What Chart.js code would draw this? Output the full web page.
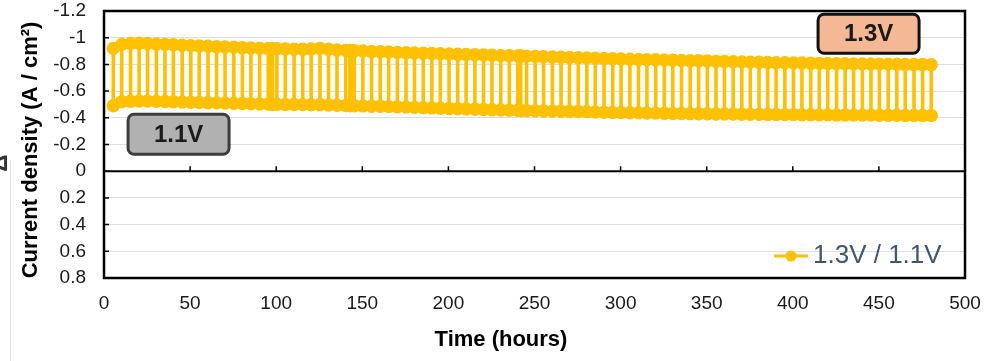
<!DOCTYPE html>
<html>
<head>
<meta charset="utf-8">
<title>Current density vs time</title>
<script src="https://cdn.jsdelivr.net/npm/chart.js@4.4.1/dist/chart.umd.min.js"></script>
<style>
  html, body { margin: 0; padding: 0; background: #fff; }
  #wrap { width: 986px; height: 361px; }
</style>
</head>
<body>
<div id="wrap"><canvas id="chart" width="986" height="361"></canvas></div>
<script>
/*
 * Chronoamperometry cycling between 1.3 V and 1.1 V.
 * Each switch time has the current density read at both potentials.
 */

// Switch times (hours)
var switchHours = [
	5.4, 10.3, 15.4, 20.4, 25.3, 30.4, 35.4, 40.3, 45.4, 50.4,
	55.3, 60.4, 65.4, 70.3, 75.4, 80.4, 85.3, 90.4, 95.4, 97.4,
	97.9, 100.4, 105.3, 110.4, 115.4, 120.3, 125.4, 130.4, 135.3, 140.4,
	142.8, 143.3, 145.4, 150.3, 155.4, 160.4, 165.3, 170.4, 175.4, 180.3,
	185.4, 190.4, 195.3, 200.4, 205.4, 210.3, 215.4, 220.4, 225.3, 230.4,
	235.4, 240.3, 241.5, 242.0, 245.4, 250.4, 255.3, 260.4, 265.4, 270.3,
	275.4, 280.4, 285.3, 290.4, 295.4, 300.3, 305.4, 310.4, 315.3, 320.4,
	325.4, 330.3, 335.4, 340.4, 345.3, 350.4, 355.4, 360.3, 365.4, 370.4,
	375.3, 380.4, 385.4, 390.3, 395.4, 400.4, 405.3, 410.4, 415.4, 420.3,
	425.4, 430.4, 435.3, 440.4, 445.4, 450.3, 455.4, 460.4, 465.3, 470.4,
	475.4, 480.4
];

// Current density at 1.3 V (A / cm2)
var current13V = [
	-0.920, -0.950, -0.957, -0.958, -0.956, -0.953, -0.950, -0.947, -0.944, -0.941,
	-0.938, -0.936, -0.933, -0.930, -0.928, -0.925, -0.923, -0.921, -0.919, -0.918,
	-0.918, -0.917, -0.915, -0.914, -0.914, -0.916, -0.920, -0.913, -0.908, -0.905,
	-0.904, -0.904, -0.902, -0.900, -0.897, -0.895, -0.893, -0.890, -0.888, -0.886,
	-0.884, -0.882, -0.880, -0.878, -0.876, -0.874, -0.872, -0.870, -0.868, -0.866,
	-0.865, -0.864, -0.864, -0.863, -0.862, -0.860, -0.858, -0.856, -0.854, -0.852,
	-0.850, -0.848, -0.846, -0.844, -0.842, -0.840, -0.839, -0.837, -0.836, -0.835,
	-0.833, -0.831, -0.829, -0.828, -0.827, -0.825, -0.823, -0.822, -0.820, -0.819,
	-0.817, -0.816, -0.815, -0.813, -0.812, -0.811, -0.810, -0.809, -0.808, -0.807,
	-0.806, -0.805, -0.804, -0.804, -0.803, -0.802, -0.802, -0.801, -0.800, -0.800,
	-0.799, -0.798
];

// Current density at 1.1 V (A / cm2)
var current11V = [
	-0.490, -0.520, -0.524, -0.526, -0.525, -0.523, -0.522, -0.520, -0.518, -0.516,
	-0.515, -0.513, -0.512, -0.510, -0.508, -0.507, -0.505, -0.504, -0.503, -0.503,
	-0.502, -0.502, -0.500, -0.500, -0.499, -0.498, -0.498, -0.496, -0.494, -0.492,
	-0.492, -0.491, -0.490, -0.489, -0.487, -0.486, -0.484, -0.482, -0.480, -0.478,
	-0.476, -0.474, -0.472, -0.470, -0.468, -0.466, -0.464, -0.462, -0.460, -0.458,
	-0.457, -0.456, -0.456, -0.455, -0.454, -0.452, -0.451, -0.450, -0.449, -0.448,
	-0.447, -0.446, -0.444, -0.442, -0.440, -0.439, -0.438, -0.437, -0.436, -0.435,
	-0.434, -0.433, -0.432, -0.431, -0.430, -0.430, -0.429, -0.428, -0.428, -0.427,
	-0.426, -0.426, -0.425, -0.425, -0.424, -0.424, -0.423, -0.423, -0.422, -0.422,
	-0.421, -0.421, -0.420, -0.420, -0.420, -0.419, -0.419, -0.419, -0.418, -0.418,
	-0.418, -0.418
];

var xTickValues = [0, 50, 100, 150, 200, 250, 300, 350, 400, 450, 500];
var yTickValues = [-1.2, -1, -0.8, -0.6, -0.4, -0.2, 0, 0.2, 0.4, 0.6, 0.8];

var seriesName = '1.3V / 1.1V';
var tagLabels  = ['1.3V', '1.1V'];
var xTitle     = 'Time (hours)';
var yTitle     = 'Current density (A / cm\u00B2)';

var FONT   = "'Liberation Sans', Arial, Helvetica, sans-serif";
var YELLOW = '#FFC000';

// Build the square-wave trace: at each switch both potentials are drawn.
var points = [];
switchHours.forEach(function (t, i) {
	if (i % 2 === 0) {
		points.push({ x: t, y: current11V[i] });
		points.push({ x: t, y: current13V[i] });
	} else {
		points.push({ x: t, y: current13V[i] });
		points.push({ x: t, y: current11V[i] });
	}
});

function fmtTick(v) {
	var r = Math.round(v * 10) / 10;
	return String(r);
}

function drawTag(ctx, cx, cy, w, h, fill, stroke, text) {
	ctx.save();
	ctx.beginPath();
	ctx.roundRect(cx - w / 2, cy - h / 2, w, h, 6);
	ctx.fillStyle = fill;
	ctx.fill();
	ctx.lineWidth = 3;
	ctx.strokeStyle = stroke;
	ctx.stroke();
	ctx.fillStyle = '#1a1a1a';
	ctx.font = 'bold 24px ' + FONT;
	ctx.textAlign = 'center';
	ctx.textBaseline = 'middle';
	ctx.fillText(text, cx, cy + 1);
	ctx.restore();
}

var framePlugin = {
	id: 'frame',
	afterDraw: function (chart) {
		var ctx = chart.ctx;
		var a   = chart.chartArea;
		var xs  = chart.scales.x;
		var ys  = chart.scales.y;

		ctx.save();

		// faint divider at far left and clipped glyph from neighbour panel
		ctx.strokeStyle = '#e4e4e4';
		ctx.lineWidth = 1;
		ctx.beginPath();
		ctx.moveTo(10.5, 160);
		ctx.lineTo(10.5, 361);
		ctx.stroke();

		ctx.save();
		ctx.translate(0, 163);
		ctx.rotate(-Math.PI / 2);
		ctx.fillStyle = '#333';
		ctx.font = 'bold 24px ' + FONT;
		ctx.textAlign = 'center';
		ctx.textBaseline = 'middle';
		ctx.fillText('\u0394', 0, 0);
		ctx.restore();

		// zero line with upward ticks
		var y0 = ys.getPixelForValue(0);
		ctx.strokeStyle = '#000';
		ctx.lineWidth = 2;
		ctx.beginPath();
		ctx.moveTo(a.left, y0);
		ctx.lineTo(a.right, y0);
		ctx.stroke();

		ctx.lineWidth = 1.5;
		ctx.beginPath();
		xTickValues.forEach(function (v) {
			var px = xs.getPixelForValue(v);
			ctx.moveTo(px, y0);
			ctx.lineTo(px, y0 - 5);
		});
		yTickValues.forEach(function (v) {
			var py = ys.getPixelForValue(v);
			ctx.moveTo(a.left, py);
			ctx.lineTo(a.left + 5, py);
		});
		ctx.stroke();

		// plot frame
		ctx.lineWidth = 2.5;
		ctx.strokeRect(a.left, a.top, a.right - a.left, a.bottom - a.top);

		// potential tags
		drawTag(ctx, xs.getPixelForValue(444), ys.getPixelForValue(-1.03), 101, 39, '#F4B994', '#111', tagLabels[0]);
		drawTag(ctx, xs.getPixelForValue(43.3), ys.getPixelForValue(-0.277), 101, 40, '#B1B1B1', '#3d3d3d', tagLabels[1]);

		// legend (inside plot, bottom right)
		var ly = 256;
		ctx.strokeStyle = YELLOW;
		ctx.lineWidth = 3;
		ctx.beginPath();
		ctx.moveTo(774, ly);
		ctx.lineTo(808, ly);
		ctx.stroke();
		ctx.fillStyle = YELLOW;
		ctx.beginPath();
		ctx.arc(791, ly, 5.5, 0, Math.PI * 2);
		ctx.fill();
		ctx.fillStyle = '#44546A';
		ctx.font = '26px ' + FONT;
		ctx.textAlign = 'left';
		ctx.textBaseline = 'middle';
		ctx.fillText(seriesName, 813, ly);

		// axis titles
		ctx.fillStyle = '#000';
		ctx.font = 'bold 22px ' + FONT;
		ctx.textAlign = 'center';
		ctx.textBaseline = 'middle';
		ctx.fillText(xTitle, 501, 340);

		ctx.save();
		ctx.translate(31, 150);
		ctx.rotate(-Math.PI / 2);
		ctx.fillText(yTitle, 0, 0);
		ctx.restore();

		ctx.restore();
	}
};

new Chart(document.getElementById('chart'), {
	type: 'line',
	data: {
		datasets: [{
			label:                seriesName,
			data:                 points,
			borderColor:          YELLOW,
			backgroundColor:      YELLOW,
			borderWidth:          3.6,
			pointRadius:          6.7,
			pointBorderWidth:     0,
			pointBackgroundColor: YELLOW,
			tension:              0,
			fill:                 false
		}]
	},
	options: {
		responsive: false,
		animation:  false,
		layout: { padding: { left: 0, right: 21, top: 11, bottom: 0 } },
		plugins: {
			legend:  { display: false },
			tooltip: { enabled: false }
		},
		scales: {
			x: {
				type: 'linear',
				min:  0,
				max:  500,
				afterBuildTicks: function (s) {
					s.ticks = xTickValues.map(function (v) { return { value: v }; });
				},
				afterFit: function (s) {
					s.height = 83;
					s.paddingLeft = 0;
					s.paddingRight = 0;
				},
				grid:   { display: false, drawTicks: false },
				border: { display: false },
				ticks: {
					padding:     14,
					autoSkip:    false,
					maxRotation: 0,
					color:       '#1a1a1a',
					font:        { size: 19, family: FONT }
				}
			},
			y: {
				type:    'linear',
				min:     -1.2,
				max:     0.8,
				reverse: true,
				afterBuildTicks: function (s) {
					s.ticks = yTickValues.map(function (v) { return { value: v }; });
				},
				afterFit: function (s) {
					s.width = 104;
					s.paddingTop = 0;
					s.paddingBottom = 0;
				},
				grid:   { color: '#D9DEE6', lineWidth: 1, drawTicks: false },
				border: { display: false },
				ticks: {
					padding:  18,
					autoSkip: false,
					color:    '#1a1a1a',
					font:     { size: 19, family: FONT },
					callback: fmtTick
				}
			}
		}
	},
	plugins: [framePlugin]
});
</script>
</body>
</html>
